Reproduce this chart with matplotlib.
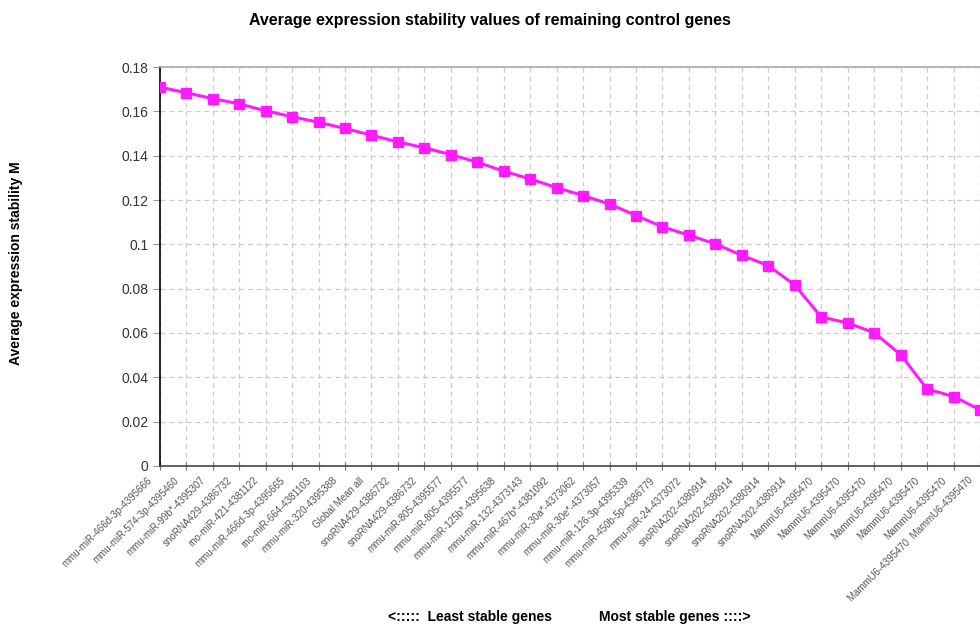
import numpy as np
import matplotlib
matplotlib.use("Agg")
import matplotlib.pyplot as plt
import matplotlib.transforms as mtransforms
from matplotlib.ticker import FuncFormatter

plt.rcParams['font.family'] = ['Liberation Sans', 'DejaVu Sans']

# control genes, least stable first
genes = [
    "mmu-miR-466d-3p-4395666",
    "mmu-miR-574-3p-4395460",
    "mmu-miR-99b*-4395307",
    "snoRNA429-4386732",
    "rno-miR-421-4381122",
    "mmu-miR-466d-3p-4395665",
    "rno-miR-664-4381103",
    "mmu-miR-320-4395388",
    "Global Mean all",
    "snoRNA429-4386732",
    "snoRNA429-4386732",
    "mmu-miR-805-4395577",
    "mmu-miR-805-4395577",
    "mmu-miR-125b*-4395638",
    "mmu-miR-132-4373143",
    "mmu-miR-467b*-4381092",
    "mmu-miR-30a*-4373062",
    "mmu-miR-30e*-4373057",
    "mmu-miR-126-3p-4395339",
    "mmu-miR-450b-5p-4386779",
    "mmu-miR-24-4373072",
    "snoRNA202-4380914",
    "snoRNA202-4380914",
    "snoRNA202-4380914",
    "snoRNA202-4380914",
    "MammU6-4395470",
    "MammU6-4395470",
    "MammU6-4395470",
    "MammU6-4395470",
    "MammU6-4395470",
    "MammU6-4395470",
    "MammU6-4395470  MammU6-4395470",
]

# average expression stability M
m_values = [
    0.1710, 0.1684, 0.1658, 0.1634, 0.1603, 0.1576, 0.1551, 0.1523,
    0.1493, 0.1462, 0.1436, 0.1405, 0.1371, 0.1330, 0.1295, 0.1256,
    0.1220, 0.1182, 0.1130, 0.1079, 0.1041, 0.1002, 0.0950, 0.0904,
    0.0816, 0.0672, 0.0645, 0.0601, 0.0502, 0.0347, 0.0313, 0.0253,
]

y_ticks = [0, 0.02, 0.04, 0.06, 0.08, 0.1, 0.12, 0.14, 0.16, 0.18]

fig = plt.figure(figsize=(9.8, 6.27), dpi=100)
ax = fig.add_axes([0.163, 0.257, 0.837, 0.636])

x = np.arange(len(genes))
ax.plot(x, m_values, color="#ff1aff", lw=2.2, marker="s", ms=7.5,
        markerfacecolor="#ff1aff", markeredgecolor="#ff1aff", zorder=3)

ax.set_xlim(0, len(genes) - 1)
ax.set_ylim(0, 0.18)
ax.set_xticks(x)
ax.set_xticklabels([])

# slanted gene names, ending just left of / below each tick
lbl_trans = ax.get_xaxis_transform() + mtransforms.ScaledTranslation(
    -0.09, -0.13, fig.dpi_scale_trans)
for i, g in enumerate(genes):
    ax.text(x[i], 0, g, transform=lbl_trans, rotation=45, ha="right", va="center",
            rotation_mode="anchor", fontsize=7, color="#555555", clip_on=False)

ax.set_yticks(y_ticks)
ax.yaxis.set_major_formatter(FuncFormatter(lambda v, p: "%g" % round(v, 2)))
ax.tick_params(axis="y", labelsize=10, labelcolor="#333333", length=5,
               color="#999999", direction="out", pad=3)
ax.tick_params(axis="x", length=6, direction="inout", color="#777777", pad=2)

ax.grid(True, color="#cccccc", linestyle=(0, (4, 3)), linewidth=0.9)
ax.set_axisbelow(True)

ax.spines["left"].set_color("#000000")
ax.spines["bottom"].set_color("#444444")
ax.spines["top"].set_color("#aaaaaa")
ax.spines["right"].set_visible(False)
for s in ax.spines.values():
    s.set_linewidth(1.2)

fig.text(0.5, 0.967, "Average expression stability values of remaining control genes",
         ha="center", va="center", fontsize=11.5, fontweight="bold")
fig.text(0.016, 0.58, "Average expression stability M", rotation=90,
         ha="center", va="center", fontsize=10, fontweight="bold")
fig.text(0.480, 0.016, "<:::::  Least stable genes", ha="center", va="center",
         fontsize=10, fontweight="bold")
fig.text(0.689, 0.016, "Most stable genes ::::>", ha="center", va="center",
         fontsize=10, fontweight="bold")

fig.savefig("out.png", dpi=100)
